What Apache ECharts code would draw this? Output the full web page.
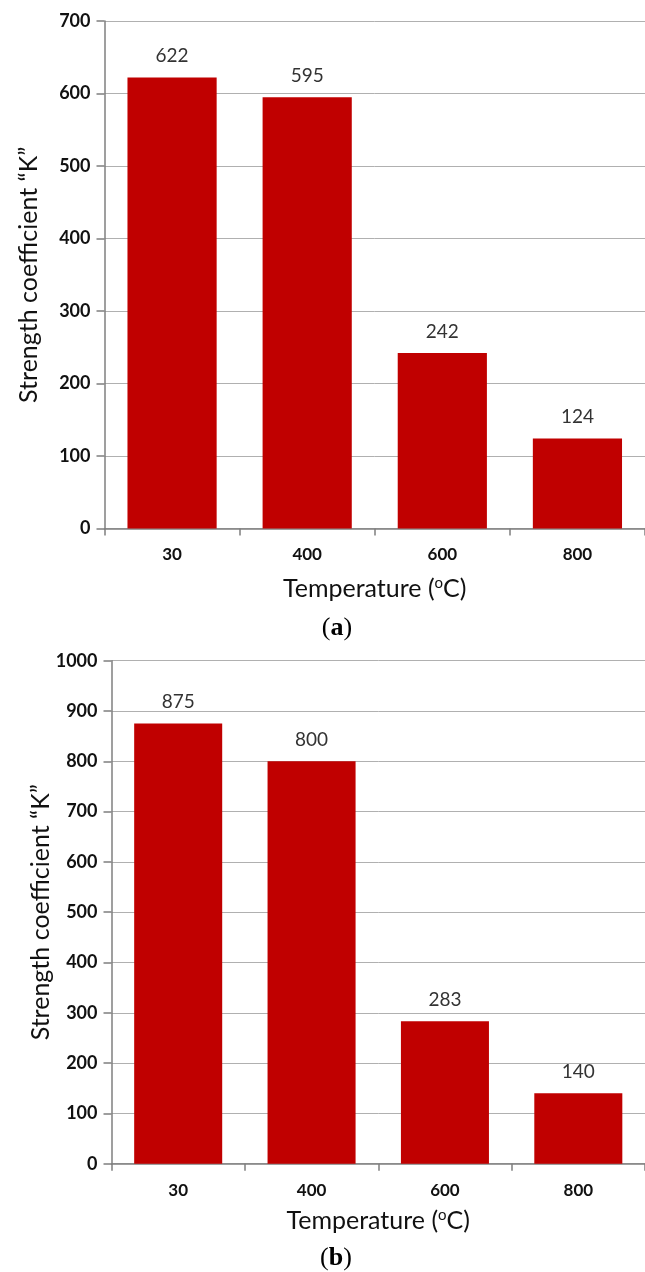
<!DOCTYPE html>
<html>
<head>
<meta charset="utf-8">
<script src="https://cdn.jsdelivr.net/npm/echarts@6/dist/echarts.min.js"></script>
<style>html,body{margin:0;padding:0;background:#fff}#c{width:645px;height:1272px}</style>
</head>
<body>
<div id="c"></div>
<script>
const categories = ['30', '400', '600', '800'];
const valuesA = [622, 595, 242, 124];
const valuesB = [875, 800, 283, 140];
const yTicksA = [0, 100, 200, 300, 400, 500, 600, 700];
const yTicksB = [0, 100, 200, 300, 400, 500, 600, 700, 800, 900, 1000];

const FONT = 'Lato';
const barColor = '#c00000';
const nameRich = {
  a: { fontFamily: FONT, fontSize: 25, color: '#111' },
  s: { fontFamily: FONT, fontSize: 15, color: '#111', padding: [0, 0, 11, 0] }
};

function xAxis(gi, gap) {
  return {
    type: 'category', gridIndex: gi, data: categories,
    axisLine: { lineStyle: { color: '#7f7f7f', width: 1.5 } },
    axisTick: { show: true, length: 7, lineStyle: { color: '#7f7f7f', width: 1.5 } },
    axisLabel: { margin: 18, fontFamily: FONT, fontWeight: 'bold', fontSize: 17, color: '#111' },
    name: '{a|Temperature (}{s|o}{a|C)}', nameLocation: 'middle', nameGap: gap,
    nameTextStyle: { rich: nameRich }
  };
}
function yAxis(gi, ticks, gap) {
  return {
    type: 'value', gridIndex: gi, min: ticks[0], max: ticks[ticks.length - 1], interval: ticks[1] - ticks[0],
    axisLine: { show: true, lineStyle: { color: '#7f7f7f', width: 1.5 } },
    axisTick: { show: true, length: 8, lineStyle: { color: '#7f7f7f', width: 1.5 } },
    axisLabel: { margin: 14, fontFamily: FONT, fontWeight: 'bold', fontSize: 18, color: '#111',
      formatter: function (v) { return String(v); } },
    splitLine: { show: true, lineStyle: { color: '#b0b0b0', width: 1 } },
    name: 'Strength coefficient \u201cK\u201d', nameLocation: 'middle', nameRotate: 90, nameGap: gap,
    nameMoveOverlap: false,
    nameTextStyle: { fontFamily: FONT, fontSize: 25, color: '#111' }
  };
}
function bars(gi, vals) {
  return {
    type: 'bar', xAxisIndex: gi, yAxisIndex: gi, data: vals,
    barCategoryGap: '34%',
    itemStyle: { color: barColor },
    label: { show: true, position: 'top', distance: 12, fontFamily: FONT, fontSize: 19, color: '#333' },
    silent: true
  };
}
function caption(letter, x, y) {
  return { type: 'text', x: x, y: y, style: { text: '({b|' + letter + '})', align: 'center', verticalAlign: 'middle',
    fontFamily: 'Liberation Serif', fontSize: 26, fill: '#000',
    rich: { b: { fontFamily: 'Liberation Serif', fontSize: 26, fontWeight: 'bold', fill: '#000' } } } };
}

const chart = echarts.init(document.getElementById('c'), null, { renderer: 'canvas' });
chart.setOption({
  animation: false,
  backgroundColor: '#fff',
  grid: [
    { left: 104.5, top: 21, width: 550, height: 507.5 },
    { left: 111.5, top: 660.7, width: 536, height: 503 }
  ],
  xAxis: [xAxis(0, 47), xAxis(1, 44)],
  yAxis: [yAxis(0, yTicksA, 63), yAxis(1, yTicksB, 58)],
  series: [bars(0, valuesA), bars(1, valuesB)],
  graphic: [caption('a', 337, 628), caption('b', 336, 1258)]
});
</script>
</body>
</html>
